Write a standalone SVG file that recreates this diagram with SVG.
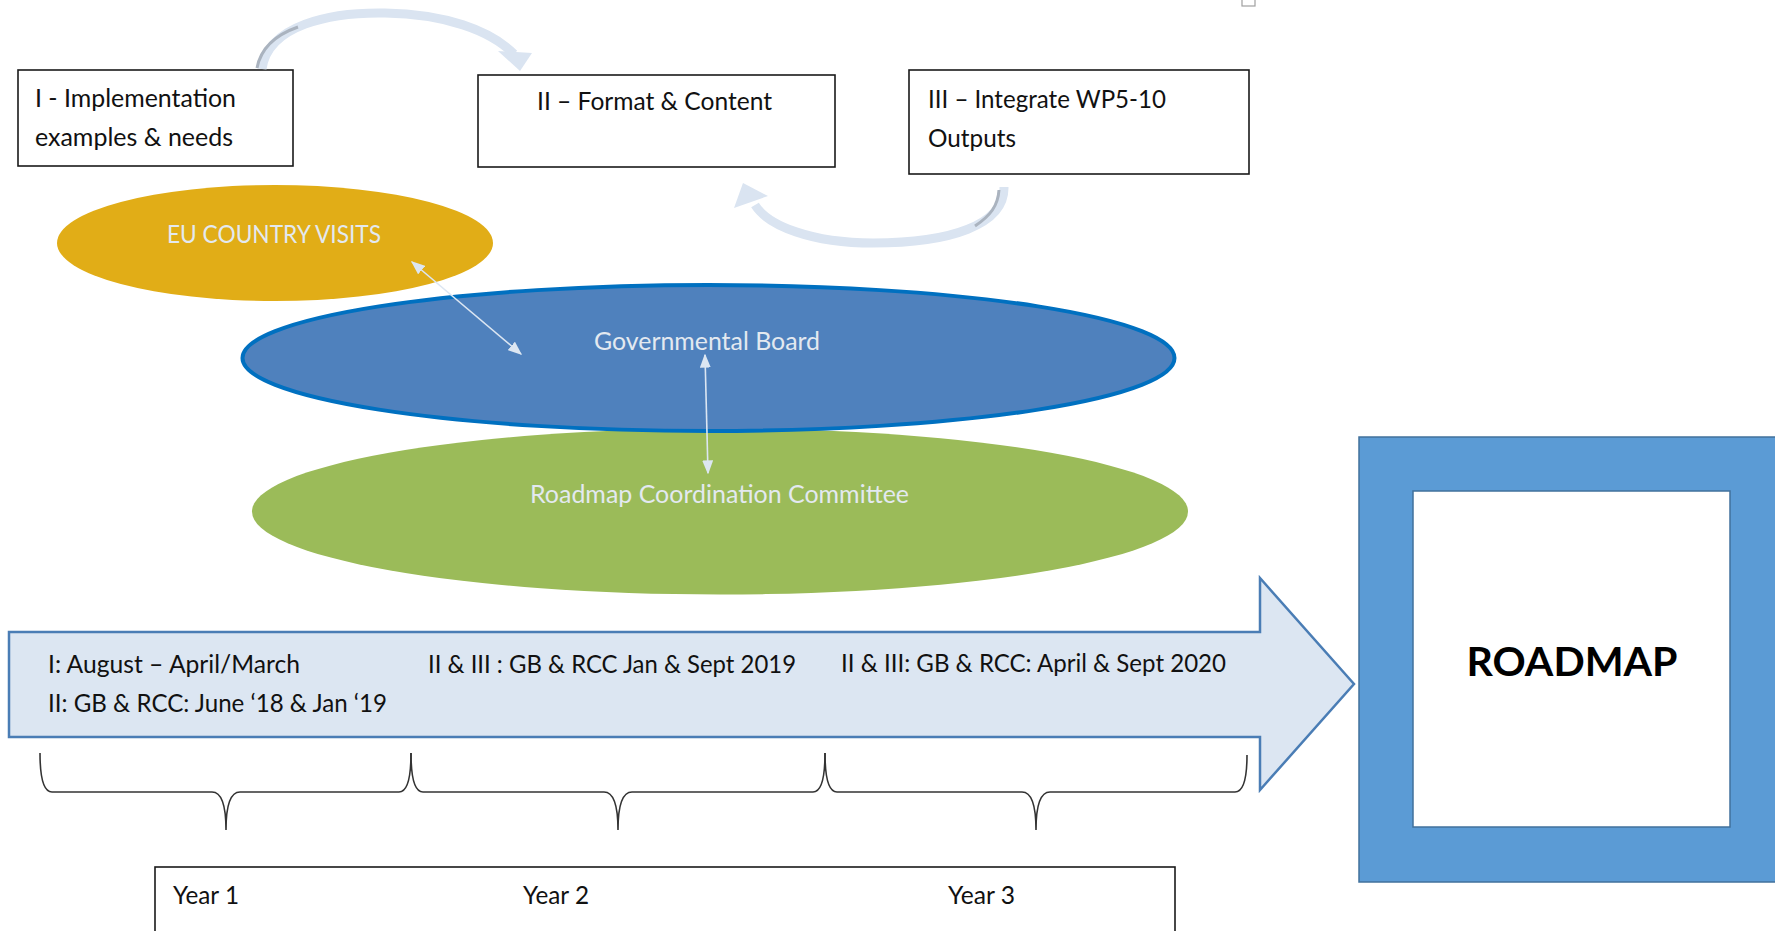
<svg xmlns="http://www.w3.org/2000/svg" width="1775" height="931" viewBox="0 0 1775 931">
<style>
.box{fill:#fff;stroke:#1a1a1a;stroke-width:1.6}
.t{font-family:Lato,"Liberation Sans",sans-serif;font-size:25px;fill:#111}
.tl{font-family:Lato,"Liberation Sans",sans-serif;font-size:25px;fill:#e3e9f0}
.curve{fill:none;stroke:#dae4f1;stroke-width:9;stroke-linecap:butt}
.shade{fill:none;stroke:#aab3bf;stroke-width:3}
.thin{fill:none;stroke:#dce6f2;stroke-width:1.6}
.brace{fill:none;stroke:#333;stroke-width:1.6}
</style>
<defs>
<marker id="ah" viewBox="0 0 10 10" refX="9" refY="5" markerWidth="14" markerHeight="11" markerUnits="userSpaceOnUse" orient="auto-start-reverse" preserveAspectRatio="none">
<path d="M0,0 L10,5 L0,10 z" fill="#dce6f2"/>
</marker>
</defs>

<g id="rcc">
<ellipse cx="720" cy="511.5" rx="468" ry="83" fill="#9bbb59"/>
<text class="tl" x="530" y="503" textLength="379" lengthAdjust="spacingAndGlyphs">Roadmap Coordination Committee</text>
</g>

<g id="gb">
<ellipse cx="708.5" cy="358" rx="466" ry="73" fill="#4f81bd" stroke="#0070c0" stroke-width="4"/>
<text class="tl" x="594" y="350" textLength="226" lengthAdjust="spacingAndGlyphs">Governmental Board</text>
</g>

<g id="eu">
<ellipse cx="275" cy="243" rx="218" ry="58" fill="#e1ad17"/>
<text class="tl" x="167" y="243" font-size="26" textLength="214" lengthAdjust="spacingAndGlyphs">EU COUNTRY VISITS</text>
</g>

<g id="box1">
<rect class="box" x="18" y="70" width="275" height="96"/>
<text class="t" x="35" y="107" textLength="201" lengthAdjust="spacingAndGlyphs">I - Implementation</text>
<text class="t" x="35" y="146" textLength="198" lengthAdjust="spacingAndGlyphs">examples &amp; needs</text>
</g>

<g id="box2">
<rect class="box" x="478" y="75" width="357" height="92"/>
<text class="t" x="537" y="110" textLength="235" lengthAdjust="spacingAndGlyphs">II – Format &amp; Content</text>
</g>

<g id="box3">
<rect class="box" x="909" y="70" width="340" height="104"/>
<text class="t" x="928" y="108" textLength="238" lengthAdjust="spacingAndGlyphs">III – Integrate WP5-10</text>
<text class="t" x="928" y="147" textLength="88" lengthAdjust="spacingAndGlyphs">Outputs</text>
</g>

<g id="marker-square">
<rect x="1242" y="-6" width="13" height="12" fill="none" stroke="#a0a0a0" stroke-width="1.2"/>
</g>

<g id="connectors">
<path class="curve" d="M262 69 C268 25 330 12 385 13 C445 14 490 30 514 54"/>
<path class="shade" d="M257 68 C261 47 278 34 298 27"/>
<polygon points="498,51 532,53 520,71" fill="#dae4f1"/>
<path class="curve" d="M1004 187 C1005 225 950 243 873 243 C812 243 768 226 755 205"/>
<path class="shade" d="M999 190 C998 206 990 216 975 226"/>
<polygon points="734,208 768,196 743,183" fill="#dae4f1"/>
<line class="thin" x1="412" y1="262" x2="521" y2="354" marker-start="url(#ah)" marker-end="url(#ah)"/>
<line class="thin" x1="705" y1="355" x2="708" y2="473" marker-start="url(#ah)" marker-end="url(#ah)"/>
</g>

<g id="timeline-arrow">
<polygon points="9,632 1260,632 1260,578 1354,684 1260,790 1260,737 9,737" fill="#dce6f2" stroke="#4a7db5" stroke-width="2.5" stroke-linejoin="miter"/>
<text class="t" x="48" y="673" textLength="252" lengthAdjust="spacingAndGlyphs">I: August – April/March</text>
<text class="t" x="48" y="712" textLength="339" lengthAdjust="spacingAndGlyphs">II: GB &amp; RCC: June ‘18 &amp; Jan ‘19</text>
<text class="t" x="428" y="673" textLength="368" lengthAdjust="spacingAndGlyphs">II &amp; III : GB &amp; RCC Jan &amp; Sept 2019</text>
<text class="t" x="841" y="672" textLength="385" lengthAdjust="spacingAndGlyphs">II &amp; III: GB &amp; RCC: April &amp; Sept 2020</text>
</g>

<g id="braces">
<path class="brace" d="M40 753 Q40 792 52 792 L212 792 Q226 792 226 830 Q226 792 240 792 L399 792 Q411 792 411 753"/>
<path class="brace" d="M411 753 Q411 792 423 792 L604 792 Q618 792 618 830 Q618 792 632 792 L813 792 Q825 792 825 753"/>
<path class="brace" d="M825 753 Q825 792 837 792 L1022 792 Q1036 792 1036 830 Q1036 792 1050 792 L1235 792 Q1247 792 1247 755"/>
</g>

<g id="years">
<rect class="box" x="155" y="867" width="1020" height="80"/>
<text class="t" x="173" y="904" textLength="66" lengthAdjust="spacingAndGlyphs">Year 1</text>
<text class="t" x="523" y="904" textLength="66" lengthAdjust="spacingAndGlyphs">Year 2</text>
<text class="t" x="948" y="904" textLength="67" lengthAdjust="spacingAndGlyphs">Year 3</text>
</g>

<g id="roadmap">
<rect x="1359" y="437" width="450" height="445" fill="#5b9bd5" stroke="#41719c" stroke-width="1.5"/>
<rect x="1413" y="491" width="317" height="336" fill="#fff" stroke="#41719c" stroke-width="1.5"/>
<text x="1572" y="676" text-anchor="middle" font-family="Lato,'Liberation Sans',sans-serif" font-weight="bold" font-size="41" fill="#000" textLength="211" lengthAdjust="spacingAndGlyphs">ROADMAP</text>
</g>
</svg>
